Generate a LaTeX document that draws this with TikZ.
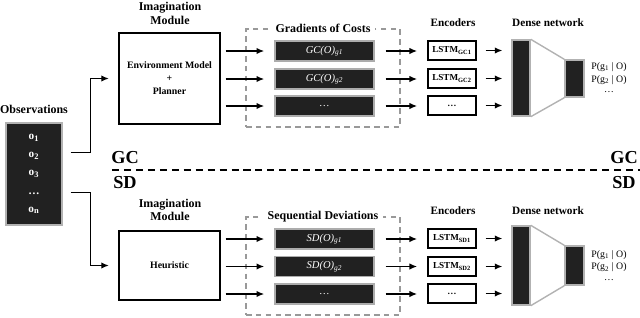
\documentclass[tikz,border=0pt]{standalone}
\usepackage{fontspec}
\setmainfont{Liberation Serif}
\usetikzlibrary{calc, positioning, arrows.meta}

\begin{document}
\begin{tikzpicture}[x=0.025cm, y=-0.025cm, line width=1pt,
  arr/.style={-{Latex[length=5.5pt, width=4.5pt]}},
  title/.style={font=\bfseries\fontsize{8.5}{9.5}\selectfont, align=center, inner sep=1pt},
  darkbox/.style={draw=gray!65, fill=black!87, line width=1pt, text=white,
    minimum width=2.475cm, minimum height=0.5cm, inner sep=0pt,
    font=\itshape\fontsize{7.5}{8}\selectfont},
  encbox/.style={draw, line width=1.1pt, minimum width=1.2cm, minimum height=0.475cm,
    inner sep=0pt, font=\bfseries\fontsize{6.5}{7}\selectfont},
  group/.style={draw=gray!80, dashed, dash pattern=on 4pt off 3pt, line width=0.8pt,
    minimum width=3.85cm, minimum height=2.45cm},
  layer/.style={draw=gray!60, fill=black!87, line width=1pt, inner sep=0pt},
  prob/.style={font=\fontsize{7}{8}\selectfont, inner sep=0pt},
  big/.style={font=\bfseries\fontsize{13}{14}\selectfont, inner sep=0pt}]
  \useasboundingbox (0,0) rectangle (640,317);

  % observations
  \node[title] (obstitle) at (34,109) {Observations};
  \node[layer, minimum width=1.4cm, minimum height=2.55cm, text=white, align=center,
    font=\bfseries\fontsize{8}{13}\selectfont] (obs) at (34,174)
    {o\textsubscript{1}\\o\textsubscript{2}\\o\textsubscript{3}\\…\\o\textsubscript{n}};
  \coordinate (outgc) at ($(obs.north east)!0.29!(obs.south east)+(8,0)$);
  \coordinate (outsd) at ($(obs.north east)!0.68!(obs.south east)+(8,0)$);

  % GC / SD separator
  \coordinate (sepL) at (112,170);
  \coordinate (sepR) at (640,170);
  \draw[line width=2pt, dash pattern=on 5pt off 3.5pt] (sepL) -- (sepR);
  \node[big] (gcL) at (125,158) {GC};
  \node[big] (sdL) at (125,183) {SD};
  \node[big] (gcR) at (624,158) {GC};
  \node[big] (sdR) at (624,183) {SD};

  % ---- upper half: gradients of costs ----
  \node[title] (imgc) at (170,13.5) {Imagination\\Module};
  \node[draw, line width=1.1pt, minimum width=2.525cm, minimum height=2.275cm, align=center,
    font=\bfseries\fontsize{7}{9.2}\selectfont] (env) at (169.5,78.5)
    {Environment Model\\+\\Planner};
  \node[group] (gcgroup) at (323,78) {};
  \node[title, fill=white, inner sep=3pt] (gctitle) at (gcgroup.north) {Gradients of Costs};
  \node[darkbox] (gc1) at (324.5,51) {GC(O)\textsubscript{g1}};
  \node[darkbox] (gc2) at (324.5,79) {GC(O)\textsubscript{g2}};
  \node[darkbox] (gc3) at (324.5,106) {…};
  \node[title, font=\bfseries\fontsize{8}{9}\selectfont] (encgc) at (453,23) {Encoders};
  \node[encbox] (lgc1) at (452,50.5) {LSTM\textsubscript{GC1}};
  \node[encbox] (lgc2) at (452,78.5) {LSTM\textsubscript{GC2}};
  \node[encbox] (lgc3) at (452,105.5) {…};
  \node[title, font=\bfseries\fontsize{8}{9}\selectfont] (densegc) at (548,23) {Dense network};
  \node[layer, minimum width=0.45cm, minimum height=1.9cm] (dgc1) at (521,78) {};
  \node[layer, minimum width=0.475cm, minimum height=0.925cm] (dgc2) at (574.5,78.5) {};
  \draw[gray!60, line width=1pt] (dgc1.north east) -- (dgc2.north west);
  \draw[gray!60, line width=1pt] (dgc1.south east) -- (dgc2.south west);
  \node[prob] (pgc1) at (609,67) {P(g\textsubscript{1} | O)};
  \node[prob] (pgc2) at (609,80) {P(g\textsubscript{2} | O)};
  \node[prob] (pgc3) at (609,92) {…};

  \draw[arr, shorten >=2.3mm] (outgc) -- ++(20,0) |- (env.west);
  \draw[arr, shorten <=1.2mm, shorten >=2.5mm] (env.east |- gc1) -- (gc1);
  \draw[arr, shorten <=1.2mm, shorten >=2.5mm] (env.east |- gc2) -- (gc2);
  \draw[arr, shorten <=1.2mm, shorten >=2.5mm] (env.east |- gc3) -- (gc3);
  \draw[arr, shorten <=2.7mm, shorten >=2.5mm] (gc1) -- (lgc1.west |- gc1);
  \draw[arr, shorten <=2.7mm, shorten >=2.5mm] (gc2) -- (lgc2.west |- gc2);
  \draw[arr, shorten <=2.7mm, shorten >=2.5mm] (gc3) -- (lgc3.west |- gc3);
  \draw[arr, shorten <=2.2mm, shorten >=2.2mm] (lgc1) -- (lgc1 -| dgc1.west);
  \draw[arr, shorten <=2.2mm, shorten >=2.2mm] (lgc2) -- (lgc2 -| dgc1.west);
  \draw[arr, shorten <=2.2mm, shorten >=2.2mm] (lgc3) -- (lgc3 -| dgc1.west);

  % ---- lower half: sequential deviations ----
  \node[title] (imsd) at (170,210) {Imagination\\Module};
  \node[draw, line width=1.1pt, minimum width=2.525cm, minimum height=1.725cm,
    font=\bfseries\fontsize{7}{9}\selectfont] (heur) at (169.5,265.5) {Heuristic};
  \node[group] (sdgroup) at (323,266) {};
  \node[title, fill=white, inner sep=3pt] (sdtitle) at (sdgroup.north) {Sequential Deviations};
  \node[darkbox] (sd1) at (324.5,239) {SD(O)\textsubscript{g1}};
  \node[darkbox] (sd2) at (324.5,266.5) {SD(O)\textsubscript{g2}};
  \node[darkbox] (sd3) at (324.5,294) {…};
  \node[title, font=\bfseries\fontsize{8}{9}\selectfont] (encsd) at (453,211) {Encoders};
  \node[encbox] (lsd1) at (452,238.5) {LSTM\textsubscript{SD1}};
  \node[encbox] (lsd2) at (452,266.5) {LSTM\textsubscript{SD2}};
  \node[encbox] (lsd3) at (452,293.5) {…};
  \node[title, font=\bfseries\fontsize{8}{9}\selectfont] (densesd) at (548,211) {Dense network};
  \node[layer, minimum width=0.45cm, minimum height=1.975cm] (dsd1) at (521,265.5) {};
  \node[layer, minimum width=0.475cm, minimum height=0.975cm] (dsd2) at (574.5,265.5) {};
  \draw[gray!60, line width=1pt] (dsd1.north east) -- (dsd2.north west);
  \draw[gray!60, line width=1pt] (dsd1.south east) -- (dsd2.south west);
  \node[prob] (psd1) at (609,255) {P(g\textsubscript{1} | O)};
  \node[prob] (psd2) at (609,267.5) {P(g\textsubscript{2} | O)};
  \node[prob] (psd3) at (609,280) {…};

  \draw[arr, shorten >=2.3mm] (outsd) -- ++(20,0) |- (heur.west);
  \draw[arr, shorten <=1.2mm, shorten >=2.5mm] (heur.east |- sd1) -- (sd1);
  \draw[arr, shorten <=1.2mm, shorten >=2.5mm] (heur.east |- sd2) -- (sd2);
  \draw[arr, shorten <=1.2mm, shorten >=2.5mm] (heur.east |- sd3) -- (sd3);
  \draw[arr, shorten <=2.7mm, shorten >=2.5mm] (sd1) -- (lsd1.west |- sd1);
  \draw[arr, shorten <=2.7mm, shorten >=2.5mm] (sd2) -- (lsd2.west |- sd2);
  \draw[arr, shorten <=2.7mm, shorten >=2.5mm] (sd3) -- (lsd3.west |- sd3);
  \draw[arr, shorten <=2.2mm, shorten >=2.2mm] (lsd1) -- (lsd1 -| dsd1.west);
  \draw[arr, shorten <=2.2mm, shorten >=2.2mm] (lsd2) -- (lsd2 -| dsd1.west);
  \draw[arr, shorten <=2.2mm, shorten >=2.2mm] (lsd3) -- (lsd3 -| dsd1.west);
\end{tikzpicture}
\end{document}
